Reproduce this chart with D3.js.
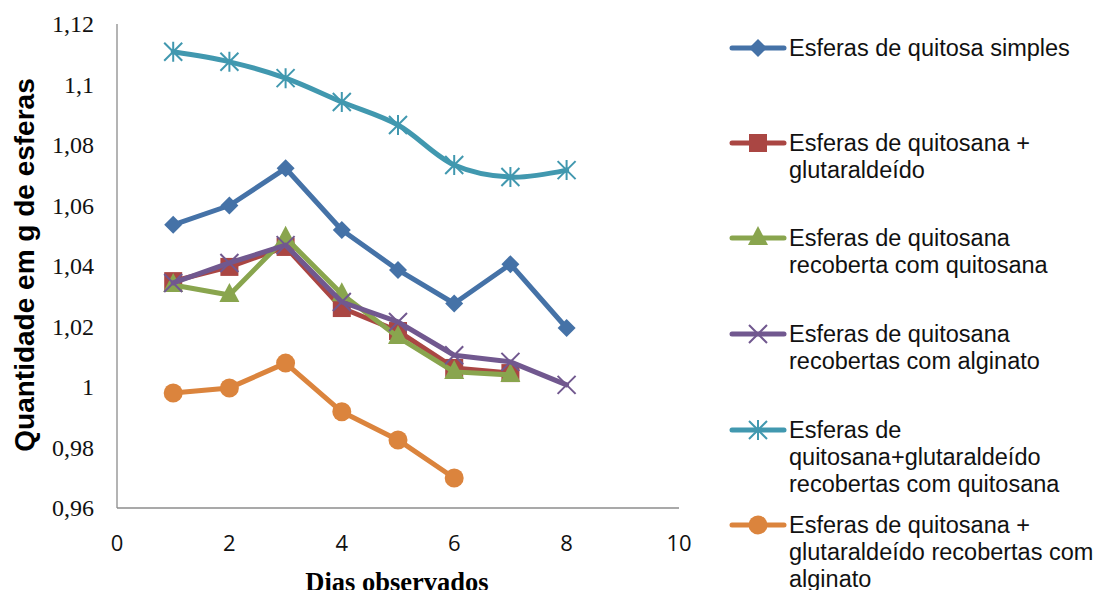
<!DOCTYPE html>
<html><head><meta charset="utf-8">
<script src="https://cdn.jsdelivr.net/npm/d3@7"></script>
<style>body{margin:0;background:#fff}svg{display:block}</style>
</head><body>
<svg id="c" width="1101" height="590"></svg>
<script>
const days = [1,2,3,4,5,6,7,8];
const seriesNames = [
  "Esferas de quitosa simples",
  "Esferas de quitosana + glutaraldeído",
  "Esferas de quitosana recoberta com quitosana",
  "Esferas de quitosana recobertas com alginato",
  "Esferas de quitosana+glutaraldeído recobertas com quitosana",
  "Esferas de quitosana + glutaraldeído recobertas com alginato"
];
const legendLines = [
  ["Esferas de quitosa simples"],
  ["Esferas de quitosana +","glutaraldeído"],
  ["Esferas de quitosana","recoberta com quitosana"],
  ["Esferas de quitosana","recobertas com alginato"],
  ["Esferas de","quitosana+glutaraldeído","recobertas com quitosana"],
  ["Esferas de quitosana +","glutaraldeído recobertas com","alginato"]
];
const simples = [1.0536,1.0600,1.0723,1.0519,1.0387,1.0276,1.0406,1.0195];
const glutar = [1.0350,1.0397,1.0463,1.0261,1.0185,1.0063,1.0046];
const recQuit = [1.0337,1.0304,1.0493,1.0307,1.0165,1.0050,1.0040];
const recAlg = [1.0344,1.0410,1.0469,1.0281,1.0215,1.0105,1.0083,1.0007];
const glutRecQuit = [1.1108,1.1075,1.1021,1.0942,1.0866,1.0734,1.0694,1.0717];
const glutRecAlg = [0.9980,0.9997,1.0079,0.9918,0.9825,0.9699];
const yTicks = [0.96,0.98,1,1.02,1.04,1.06,1.08,1.1,1.12];
const xTicks = [0,2,4,6,8,10];
const colors = ["#4572A7","#AA4643","#89A54E","#71588F","#4198AF","#DB843D"];
const markers = ["diamond","square","triangle","x","star","circle"];
const allValues = [simples, glutar, recQuit, recAlg, glutRecQuit, glutRecAlg];

const svg = d3.select("#c");
const x = d3.scaleLinear().domain([0,10]).range([117,679]);
const y = d3.scaleLinear().domain([0.96,1.12]).range([508,24]);

// axes
svg.append("line").attr("x1",117).attr("x2",117).attr("y1",24).attr("y2",508).attr("stroke","#8c8c8c").attr("stroke-width",1.3);
svg.append("line").attr("x1",117).attr("x2",679).attr("y1",508).attr("y2",508).attr("stroke","#8c8c8c").attr("stroke-width",1.3);

const fmt = v => String(+v.toFixed(2)).replace(".",",");
svg.selectAll("text.yt").data(yTicks).enter().append("text")
  .attr("x",94).attr("y",d=>y(d)+8).attr("text-anchor","end")
  .style("font-family","'Liberation Serif','Times New Roman',serif").style("font-size","24px").attr("fill","#111")
  .text(fmt);
svg.selectAll("text.xt").data(xTicks).enter().append("text")
  .attr("x",d=>x(d)).attr("y",551).attr("text-anchor","middle")
  .style("font-family","'Open Sans','Liberation Sans',sans-serif").style("font-size","22px").attr("fill","#111")
  .text(d=>d);

svg.append("text").attr("transform","translate(34,265) rotate(-90)").attr("text-anchor","middle")
  .style("font-family","'Liberation Sans',Arial,sans-serif").style("font-size","28px").style("font-weight","bold")
  .text("Quantidade em g de esferas");
svg.append("text").attr("x",397).attr("y",591).attr("text-anchor","middle")
  .style("font-family","'Liberation Serif','Times New Roman',serif").style("font-size","26.5px").style("font-weight","bold")
  .text("Dias observados");

function drawMarker(g, type, cx, cy, color){
  if(type==="diamond"){
    g.append("path").attr("d",`M${cx},${cy-9}L${cx+9},${cy}L${cx},${cy+9}L${cx-9},${cy}Z`).attr("fill",color);
  } else if(type==="square"){
    g.append("rect").attr("x",cx-9).attr("y",cy-9).attr("width",18).attr("height",18).attr("fill",color);
  } else if(type==="triangle"){
    g.append("path").attr("d",`M${cx},${cy-12}L${cx+10},${cy+7}L${cx-10},${cy+7}Z`).attr("fill",color);
  } else if(type==="x"){
    g.append("path").attr("d",`M${cx-9},${cy-9}L${cx+9},${cy+9}M${cx+9},${cy-9}L${cx-9},${cy+9}`).attr("stroke",color).attr("stroke-width",2);
  } else if(type==="star"){
    g.append("path").attr("d",`M${cx-9},${cy-9}L${cx+9},${cy+9}M${cx+9},${cy-9}L${cx-9},${cy+9}M${cx},${cy-10}L${cx},${cy+10}`).attr("stroke",color).attr("stroke-width",2);
  } else if(type==="circle"){
    g.append("circle").attr("cx",cx).attr("cy",cy).attr("r",9.5).attr("fill",color);
  }
}

allValues.forEach((vals,i)=>{
  const g = svg.append("g");
  const pts = vals.map((v,j)=>[days[j],v]);
  const line = d3.line().x(d=>x(d[0])).y(d=>y(d[1]));
  if(i===4) line.curve(d3.curveCatmullRom.alpha(0.5));
  g.append("path").attr("d",line(pts)).attr("fill","none").attr("stroke",colors[i]).attr("stroke-width",5).attr("stroke-linejoin","round").attr("stroke-linecap","round");
  pts.forEach(p=>drawMarker(g, markers[i], x(p[0]), y(p[1]), colors[i]));
});

// legend
const legTop = [48,143,238,334,430,525];
legendLines.forEach((lines,i)=>{
  const g = svg.append("g");
  const ly = legTop[i];
  g.append("line").attr("x1",732).attr("x2",784).attr("y1",ly).attr("y2",ly).attr("stroke",colors[i]).attr("stroke-width",5).attr("stroke-linecap","round");
  drawMarker(g, markers[i], 758, ly, colors[i]);
  lines.forEach((t,k)=>{
    g.append("text").attr("x",789).attr("y",ly+8+k*27)
      .style("font-family","'Liberation Sans',Arial,sans-serif").style("font-size","23.5px").attr("fill","#111").text(t);
  });
});
</script>
</body></html>
